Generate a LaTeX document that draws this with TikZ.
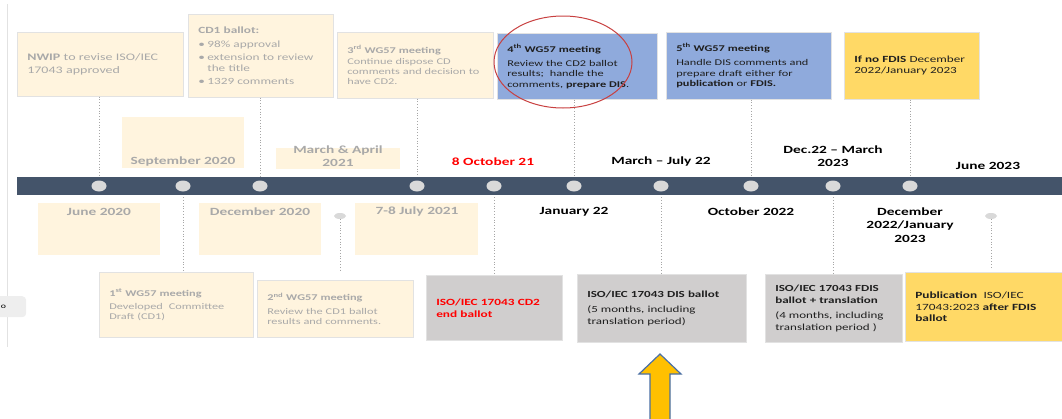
\documentclass[tikz,border=0pt]{standalone}
\usepackage{fontspec}
\setmainfont{Carlito}[FakeStretch=1.4]
\usetikzlibrary{shapes.geometric}
\definecolor{barblue}{HTML}{44546A}
\definecolor{dotgray}{HTML}{D9D9D9}
\definecolor{guidegray}{HTML}{A6A6A6}
\definecolor{beige}{HTML}{FFF4DE}
\definecolor{cardline}{HTML}{E2E2E2}
\definecolor{fadetxt}{HTML}{A9A9A9}
\definecolor{wgblue}{HTML}{8FAADC}
\definecolor{gold}{HTML}{FFD966}
\definecolor{ballotgray}{HTML}{D0CECE}
\definecolor{arrowgold}{HTML}{FFC000}
\definecolor{arrowline}{HTML}{4A6FA5}
\definecolor{ringred}{HTML}{C84040}
\definecolor{tabgray}{HTML}{EEEEEE}
\begin{document}
\begin{tikzpicture}[x=1pt, y=-1pt,
  card/.style={anchor=north west, draw=cardline, line width=0.6pt, inner xsep=10pt, inner ysep=0pt, align=left, text=black!88, font=\fontsize{8.8}{10.4}\selectfont},
  oldcard/.style={card, fill=beige, text=fadetxt},
  patch/.style={anchor=north west, fill=beige, inner sep=0pt},
  date/.style={align=center, inner sep=0pt, font=\fontsize{11}{13.5}\selectfont\bfseries},
  olddate/.style={date, text=fadetxt},
  dot/.style={ellipse, fill=dotgray, minimum width=15, minimum height=11, inner sep=0pt},
  guide/.style={dotted, line width=0.8pt, draw=guidegray}]
\useasboundingbox (0,0) rectangle (1062,418);

% left edge of the screenshot
\draw[cardline] (7,4) -- (7,347);
\node[anchor=north west, fill=tabgray, rounded corners=4pt, minimum width=32, minimum height=21, inner sep=0pt] (tab) at (-6,296) {};
\node[font=\fontsize{7}{8}\selectfont, inner sep=0pt] (tabtxt) at (3.5,307) {o};

% points on the time bar
\foreach \x [count=\i] in {99,183,260,417,494,574,661,751,833,910}
  \coordinate (c\i) at (\x,186);

% cards above the bar
\node[oldcard, fill=beige, minimum width=166, minimum height=64, text width=146, font=\fontsize{10}{12.7}\selectfont] (nwip) at (17,32)
  {\textbf{NWIP} to revise ISO/IEC\\17043 approved};
\node[oldcard, minimum width=145, minimum height=83, text width=125, font=\fontsize{9.5}{11.6}\selectfont] (cd1) at (188,14)
  {\textbf{CD1 ballot:}\\[2pt]
   \makebox[9pt][l]{\textbullet}98\% approval\\[1.5pt]
   \makebox[9pt][l]{\textbullet}extension to review\\
   \hspace*{9pt}the title\\[1.5pt]
   \makebox[9pt][l]{\textbullet}1329 comments};
\node[oldcard, minimum width=156, minimum height=66, text width=136] (wg3) at (337,32)
  {\textbf{3\textsuperscript{rd} WG57 meeting}\\Continue dispose CD\\comments and decision to\\have CD2.};
\node[card, fill=wgblue, minimum width=160, minimum height=66, text width=140] (wg4) at (497,33)
  {\textbf{4\textsuperscript{th} WG57 meeting}\\[4pt]Review the CD2 ballot\\results;\ \ handle the\\comments, \textbf{prepare DIS}.};
\node[card, fill=wgblue, minimum width=165, minimum height=67, text width=145] (wg5) at (666,32)
  {\textbf{5\textsuperscript{th} WG57 meeting}\\[4pt]Handle DIS comments and\\prepare draft either for\\\textbf{publication} or \textbf{FDIS.}};
\node[card, fill=gold, minimum width=135, minimum height=67, text width=115, font=\fontsize{9.4}{11.2}\selectfont] (nofdis) at (844,32)
  {\textbf{If no FDIS} December\\2022/January 2023};

% dates above the bar
\node[patch, minimum width=122, minimum height=51] (sepbox) at (122,117) {};
\node[olddate] (sep) at (183,162) {September 2020};
\node[patch, minimum width=124, minimum height=21] (marbox) at (276,148) {};
\node[olddate] (mar) at (338,156) {March \& April\\2021};
\node[date, text=red] (oct21) at (493,162) {8 October 21};
\node[date] (marjul) at (661,162) {March -- July 22};
\node[date] (decmar) at (833,156) {Dec.22 -- March\\2023};
\node[date] (jun23) at (988,166) {June 2023};

% dates below the bar
\node[patch, minimum width=122, minimum height=52] (junbox) at (38,203) {};
\node[olddate] (jun20) at (99,212) {June 2020};
\node[patch, minimum width=122, minimum height=52] (decbox) at (199,203) {};
\node[olddate] (dec20) at (260,212) {December 2020};
\node[patch, minimum width=123, minimum height=52] (julbox) at (355,203) {};
\node[olddate] (jul21) at (417,212) {7-8 July 2021};
\node[date] (jan22) at (574,212) {January 22};
\node[date] (oct22) at (751,212) {October 2022};
\node[date] (decjan) at (910,225) {December\\2022/January\\2023};
\node[dot, minimum width=12, minimum height=6] (o1) at (340,216) {};
\node[dot, minimum width=12, minimum height=6] (o2) at (991,216) {};
\coordinate (o1end) at (340,270);
\coordinate (o2end) at (991,268);

% cards below the bar
\node[oldcard, minimum width=154, minimum height=65, text width=134] (wg1) at (99,272)
  {\textbf{1\textsuperscript{st} WG57 meeting}\\[3pt]Developed\ \ Committee\\Draft (CD1)};
\node[oldcard, minimum width=156, minimum height=57, text width=136] (wg2) at (257,280)
  {\textbf{2\textsuperscript{nd} WG57 meeting}\\[3pt]Review the CD1 ballot\\results and comments.};
\node[card, fill=ballotgray, minimum width=136, minimum height=65, text width=116, text=red, font=\fontsize{9.5}{12}\selectfont\bfseries] (cd2) at (426,275)
  {ISO/IEC 17043 CD2\\end ballot};
\node[card, fill=ballotgray, minimum width=169, minimum height=68, text width=149, font=\fontsize{9.3}{11.8}\selectfont] (dis) at (577,274)
  {\textbf{ISO/IEC 17043 DIS ballot}\\[3pt](5 months, including\\translation period)};
\node[card, fill=ballotgray, minimum width=137, minimum height=68, text width=117, font=\fontsize{9.3}{11.8}\selectfont] (fdis) at (765,274)
  {\textbf{ISO/IEC 17043 FDIS}\\\textbf{ballot + translation}\\[3pt](4 months, including\\translation period )};
\node[card, fill=gold, minimum width=157, minimum height=69, text width=137, font=\fontsize{9.5}{11.6}\selectfont] (pub) at (905,272)
  {\textbf{Publication}\ \ ISO/IEC\\17043:2023 \textbf{after FDIS}\\\textbf{ballot}};

% guides to the bar
\draw[guide] (c1 |- nwip.south) -- (c1);
\draw[guide] (c3 |- cd1.south) -- (c3);
\draw[guide] (c4 |- wg3.south) -- (c4);
\draw[guide] (c6 |- wg4.south) -- (c6);
\draw[guide] (c8 |- wg5.south) -- (c8);
\draw[guide] (c10 |- nofdis.south) -- (c10);
\draw[guide] (c2) -- (c2 |- wg1.north);
\draw[guide] (c5) -- (c5 |- cd2.north);
\draw[guide] (c7) -- (c7 |- dis.north);
\draw[guide] (c9) -- (c9 |- fdis.north);
\draw[guide] (o1) -- (o1end);
\draw[guide] (o2) -- (o2end);

% time bar
\fill[barblue] (17,177) rectangle (1062,195);
\foreach \i in {1,...,10}
  \node[dot] (d\i) at (c\i) {};

% ring round the 4th meeting
\draw[ringred, line width=1pt] (563,62) ellipse [x radius=69, y radius=46];

% arrow up to the DIS ballot
\draw[fill=arrowgold, draw=arrowline, line width=1.2pt, line join=miter]
  (660,354) -- (681,374) -- (670,374) -- (670,420) -- (650,420) -- (650,374) -- (639,374) -- cycle;
\end{tikzpicture}
\end{document}
